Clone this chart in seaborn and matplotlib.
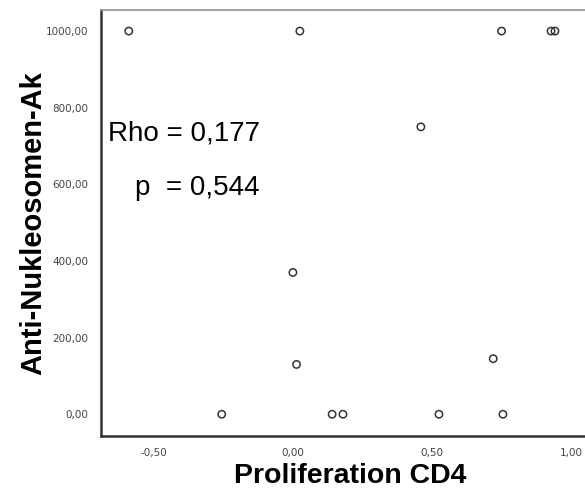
import numpy as np
import pandas as pd
import matplotlib
matplotlib.use("Agg")
import matplotlib.pyplot as plt
import matplotlib.ticker as mticker
import seaborn as sns

# data
prolif_cd4 = [-0.59, 0.025, 0.75, 0.928, 0.942, 0.46, 0.0, 0.013, -0.256, 0.141, 0.18, 0.525, 0.72, 0.755]
anti_nuk = [1000, 1000, 1000, 1000, 1000, 750, 370, 130, 0, 0, 0, 0, 145, 0]
x_ticks = [-0.5, 0.0, 0.5, 1.0]
y_ticks = [0, 200, 400, 600, 800, 1000]
rho_text = "Rho = 0,177"
p_text = "p  = 0,544"

df = pd.DataFrame({"Proliferation CD4": prolif_cd4, "Anti-Nukleosomen-Ak": anti_nuk})

sns.set_style("white")
plt.rcParams['font.family'] = ['Liberation Sans', 'DejaVu Sans']

fig = plt.figure(figsize=(5.85, 4.9), dpi=100)
ax = fig.add_axes([0.1726, 0.1108, 0.8274, 0.8688])

sns.scatterplot(data=df, x="Proliferation CD4", y="Anti-Nukleosomen-Ak", ax=ax,
                s=28, facecolor="none", edgecolor="#333333", linewidth=1.1)

ax.set_xlim(-0.69, 1.05)
ax.set_ylim(-56, 1055)
ax.set_xticks(x_ticks)
ax.set_yticks(y_ticks)
comma_fmt = mticker.FuncFormatter(lambda v, pos: f"{v:.2f}".replace(".", ","))
ax.xaxis.set_major_formatter(comma_fmt)
ax.yaxis.set_major_formatter(comma_fmt)
ax.tick_params(axis="both", direction="out", length=7, width=1.2, color="#333333",
               labelsize=7.5, labelcolor="#444444", pad=2)
ax.tick_params(axis="x", length=6, pad=3)
for lab in ax.get_xticklabels() + ax.get_yticklabels():
    lab.set_family("DejaVu Sans")

for side in ["left", "bottom"]:
    ax.spines[side].set_color("#333333")
    ax.spines[side].set_linewidth(1.8)
ax.spines["top"].set_color("#9a9a9a")
ax.spines["top"].set_linewidth(1.3)
ax.spines["right"].set_visible(False)

ax.set_xlabel("Proliferation CD4", fontsize=20.5, fontweight="bold", color="black")
ax.set_ylabel("Anti-Nukleosomen-Ak", fontsize=21, fontweight="bold", color="black")
ax.xaxis.set_label_coords(0.514, -0.064)
ax.yaxis.set_label_coords(-0.11, 0.5)

ax.text(-0.665, 715, rho_text, fontsize=20, color="black")
ax.text(-0.568, 572, p_text, fontsize=20, color="black")

fig.savefig("out.png", dpi=100)
